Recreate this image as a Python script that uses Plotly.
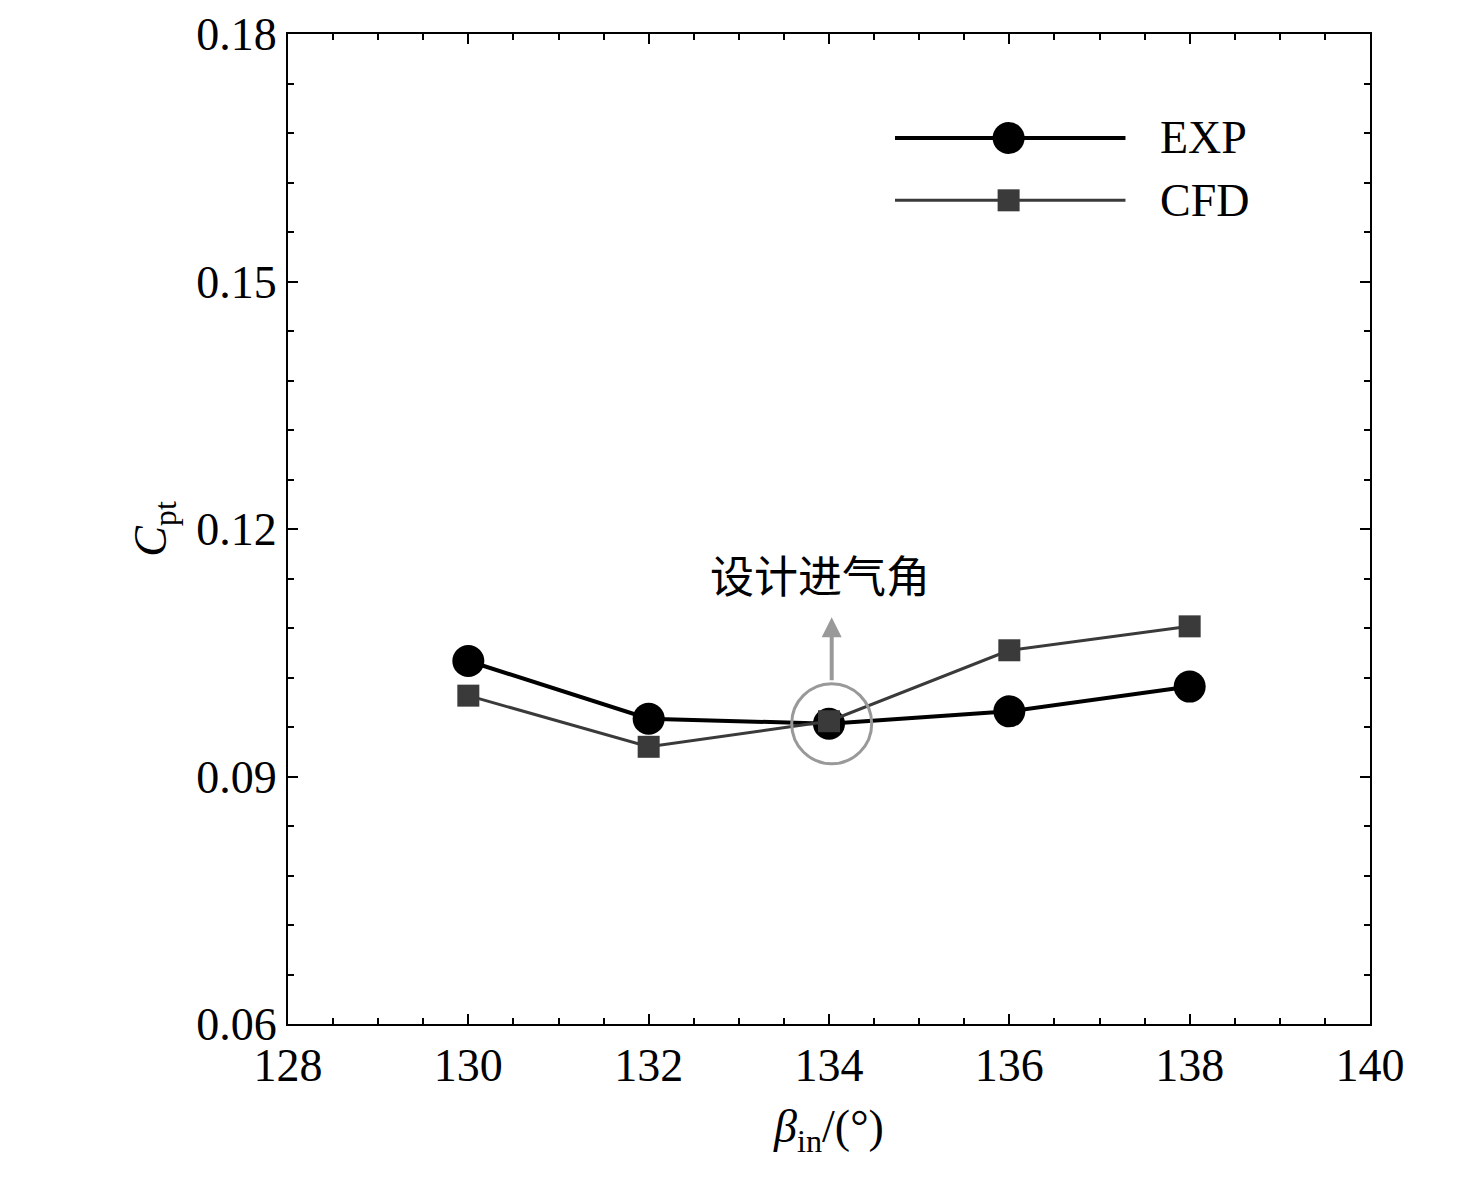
import plotly.graph_objects as go

beta = [130, 132, 134, 136, 138]
exp_vals = [0.1040, 0.0970, 0.0964, 0.0979, 0.1009]
cfd_vals = [0.0998, 0.0936, 0.0967, 0.1053, 0.1082]

F = "Liberation Serif"
fig = go.Figure()
fig.add_trace(go.Scatter(x=beta, y=exp_vals, mode="lines+markers", name="EXP",
                         line=dict(color="black", width=4),
                         marker=dict(symbol="circle", size=32, color="black")))
fig.add_trace(go.Scatter(x=beta, y=cfd_vals, mode="lines+markers", name="CFD",
                         line=dict(color="#3a3a3a", width=3),
                         marker=dict(symbol="square", size=22, color="#3a3a3a")))

shapes = [
    dict(type="circle", xref="x", yref="y", xsizemode="pixel", ysizemode="pixel",
         xanchor=134.03, yanchor=0.0964, x0=-40, x1=40, y0=-40, y1=40,
         line=dict(color="#999999", width=3)),
    dict(type="line", xref="paper", yref="paper", x0=0.561, x1=0.774, y0=0.895, y1=0.895,
         line=dict(color="black", width=4)),
    dict(type="line", xref="paper", yref="paper", x0=0.561, x1=0.774, y0=0.832, y1=0.832,
         line=dict(color="#3a3a3a", width=3)),
    dict(type="circle", xref="paper", yref="paper", xsizemode="pixel", ysizemode="pixel",
         xanchor=0.666, yanchor=0.895, x0=-16, x1=16, y0=-16, y1=16,
         fillcolor="black", line=dict(color="black", width=0)),
    dict(type="rect", xref="paper", yref="paper", xsizemode="pixel", ysizemode="pixel",
         xanchor=0.666, yanchor=0.832, x0=-11, x1=11, y0=-11, y1=11,
         fillcolor="#3a3a3a", line=dict(color="#3a3a3a", width=0)),
]
annotations = [
    dict(xref="paper", yref="paper", x=0.804, y=0.895, text="EXP", showarrow=False,
         xanchor="left", yanchor="middle", font=dict(family=F, size=46, color="black")),
    dict(xref="paper", yref="paper", x=0.804, y=0.832, text="CFD", showarrow=False,
         xanchor="left", yanchor="middle", font=dict(family=F, size=46, color="black")),
    dict(x=134.03, y=0.1093, ax=134.03, ay=0.1015, axref="x", ayref="y", xref="x", yref="y",
         text="", showarrow=True, arrowhead=2, arrowsize=1.0, arrowwidth=4, arrowcolor="#999999"),
    dict(x=133.9, y=0.1146, xref="x", yref="y", text="设计进气角", showarrow=False,
         yanchor="middle", font=dict(family="Noto Sans CJK SC", size=44, color="black")),
]

axis_common = dict(showgrid=False, zeroline=False, showline=True, linecolor="black", linewidth=2,
                   mirror="ticks", ticks="inside", ticklen=10, tickwidth=2, tickcolor="black",
                   automargin=False,
                   tickfont=dict(family=F, size=46, color="black"))
fig.update_layout(
    width=1476, height=1187, margin=dict(l=280, r=114, t=26, b=171),
    plot_bgcolor="white", paper_bgcolor="white", showlegend=False,
    shapes=shapes, annotations=annotations,
    xaxis=dict(range=[128, 140], dtick=2, minor=dict(dtick=0.5, ticks="inside", ticklen=6,
               tickcolor="black", tickwidth=1.5),
               title=dict(text="<i>β</i><sub>in</sub>/(°)", font=dict(family=F, size=46, color="black"), standoff=20),
               **axis_common),
    yaxis=dict(range=[0.06, 0.18], dtick=0.03, tickformat=".2f",
               minor=dict(dtick=0.006, ticks="inside", ticklen=6, tickcolor="black", tickwidth=1.5),
               title=dict(text="<i>C</i><sub>pt</sub>", font=dict(family=F, size=46, color="black"), standoff=15),
               **axis_common),
)
fig.write_html("out.html")
